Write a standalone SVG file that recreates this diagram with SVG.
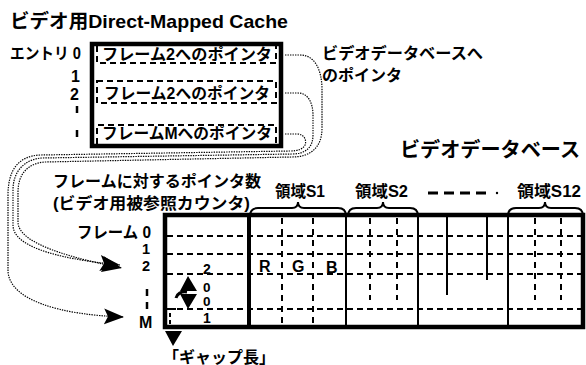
<svg xmlns="http://www.w3.org/2000/svg" width="586" height="365" viewBox="0 0 586 365">
<defs>
<style>
text{font-family:"Liberation Sans","Noto Sans CJK JP",sans-serif;font-weight:bold;fill:#000}
.thick{fill:none;stroke:#000;stroke-width:4.5}
.solid{fill:none;stroke:#000;stroke-width:2}
.dash{fill:none;stroke:#000;stroke-width:2;stroke-dasharray:6 4}
.vdash{fill:none;stroke:#000;stroke-width:2;stroke-dasharray:6 5}
.brace{fill:none;stroke:#000;stroke-width:2}
.dot{fill:none;stroke:#000;stroke-width:1.2;stroke-dasharray:1.4 1.1}
</style>
<marker id="ah" markerUnits="userSpaceOnUse" markerWidth="21" markerHeight="17" refX="20" refY="8" orient="auto" viewBox="0 0 21 17">
<path d="M0,0 L20,8 L0,16 L4,8 Z" fill="#000"/>
</marker>
</defs>
<rect width="586" height="365" fill="#fff"/>

<text x="10" y="28" font-size="19" textLength="278" lengthAdjust="spacingAndGlyphs">ビデオ用Direct-Mapped Cache</text>

<g id="cache">
<rect class="thick" x="92" y="44" width="189" height="102"/>
<path class="dash" d="M97,46 V63 H276 V46"/>
<rect class="dash" x="97" y="81" width="179" height="22"/>
<path class="dash" d="M97,144 V125 H276 V144"/>
<text x="102" y="60" font-size="16" textLength="170" lengthAdjust="spacingAndGlyphs">フレーム2へのポインタ</text>
<text x="104" y="99" font-size="16" textLength="166" lengthAdjust="spacingAndGlyphs">フレーム2へのポインタ</text>
<text x="102" y="139" font-size="16" textLength="170" lengthAdjust="spacingAndGlyphs">フレームMへのポインタ</text>
</g>

<g id="entry-labels">
<text x="10" y="59" font-size="16" textLength="71" lengthAdjust="spacingAndGlyphs">エントリ 0</text>
<text x="71" y="82" font-size="16">1</text>
<text x="70" y="100" font-size="16">2</text>
<path d="M77,106 V113 M77,130 V137" stroke="#000" stroke-width="2.5"/>
</g>

<g id="pointer-label">
<text x="322" y="59" font-size="16" textLength="161" lengthAdjust="spacingAndGlyphs">ビデオデータベースへ</text>
<text x="322" y="81" font-size="16">のポインタ</text>
</g>

<text x="400" y="157" font-size="20" textLength="180" lengthAdjust="spacingAndGlyphs">ビデオデータベース</text>

<g id="counter-label">
<text x="53" y="187" font-size="16" textLength="208" lengthAdjust="spacingAndGlyphs">フレームに対するポインタ数</text>
<text x="53" y="209" font-size="16" textLength="197" lengthAdjust="spacingAndGlyphs">(ビデオ用被参照カウンタ)</text>
</g>

<g id="frame-labels">
<text x="77" y="238" font-size="16" textLength="74" lengthAdjust="spacingAndGlyphs">フレーム 0</text>
<text x="142" y="254" font-size="14.5">1</text>
<text x="142" y="271" font-size="14.5">2</text>
<path d="M147,289 V296 M147,302 V309" stroke="#000" stroke-width="2.5"/>
<text x="139" y="328" font-size="16">M</text>
</g>

<g id="database">
<line class="dash" x1="167" y1="236" x2="581" y2="236"/>
<line class="dash" x1="167" y1="254" x2="581" y2="254"/>
<line class="dash" x1="167" y1="274" x2="581" y2="274"/>
<line class="dash" x1="167" y1="309" x2="581" y2="309"/>
<line class="vdash" x1="282" y1="218" x2="282" y2="326"/>
<line class="vdash" x1="313" y1="218" x2="313" y2="326"/>
<line class="vdash" x1="370" y1="218" x2="370" y2="300"/>
<line class="vdash" x1="397" y1="218" x2="397" y2="300"/>
<line class="vdash" x1="535" y1="218" x2="535" y2="300"/>
<line class="vdash" x1="561" y1="218" x2="561" y2="300"/>
<line class="solid" x1="346" y1="215" x2="346" y2="327"/>
<line class="solid" x1="418" y1="215" x2="418" y2="327"/>
<line class="solid" x1="508" y1="215" x2="508" y2="327"/>
<line class="solid" x1="447" y1="215" x2="447" y2="295"/>
<line class="solid" x1="487" y1="215" x2="487" y2="280"/>
<line x1="249" y1="215" x2="249" y2="327" stroke="#000" stroke-width="4"/>
<rect class="thick" x="165" y="215" width="418" height="112" stroke-width="4"/>
<text x="259" y="272" font-size="16">R</text>
<text x="292" y="272" font-size="16">G</text>
<text x="326" y="273" font-size="16">B</text>
</g>

<g id="counter">
<text x="203" y="274" font-size="14">2</text>
<text x="203" y="292" font-size="13.5">0</text>
<text x="203" y="306" font-size="13.5">0</text>
<text x="203" y="323" font-size="14">1</text>
<polygon points="188,276 180,291 197,291" fill="#000"/>
<polygon points="180,294 197,294 188,309" fill="#000"/>
<path d="M187,292 C181,291 177,294 176,298" fill="none" stroke="#000" stroke-width="3"/>
<path d="M170,309 H176 M170,313 V317 M170,320 V324" stroke="#000" stroke-width="2" fill="none"/>
</g>

<g id="gap">
<polygon points="165,331 182,331 173,346" fill="#000"/>
<text x="163" y="363" font-size="16">「ギャップ長」</text>
</g>

<g id="regions">
<path class="brace" d="M250,216 Q250,208 258,208 L292,208 Q298,208 298,202 Q298,208 304,208 L338,208 Q346,208 346,216"/>
<path class="brace" d="M348,216 Q348,208 356,208 L377,208 Q383,208 383,202 Q383,208 389,208 L410,208 Q418,208 418,216"/>
<path class="brace" d="M508,216 Q508,208 516,208 L539,208 Q545,208 545,202 Q545,208 551,208 L575,208 Q583,208 583,216"/>
<text x="275" y="197" font-size="16" textLength="50" lengthAdjust="spacingAndGlyphs">領域S1</text>
<text x="355" y="197" font-size="16" textLength="53" lengthAdjust="spacingAndGlyphs">領域S2</text>
<line x1="428" y1="193" x2="490" y2="193" stroke="#000" stroke-width="3" stroke-dasharray="10 6"/>
<circle cx="497" cy="193" r="1.2" fill="#000"/>
<text x="517" y="197" font-size="16" textLength="64" lengthAdjust="spacingAndGlyphs">領域S12</text>
</g>

<g id="connectors">
<path class="dot" marker-end="url(#ah)" d="M285,134 H297 C304,134 307,140 305,145 C303,149 298,151 290,151 L40,155 C20,156 8,168 8,195 L8,270 C8,300 60,315 124,317"/>
<path class="dot" marker-end="url(#ah)" d="M285,93 H298 C308,93 313,103 313,115 L313,135 C313,148 305,154 292,154 L42,158 C26,159 13,170 13,190 L13,225 C13,245 50,258 120,265"/>
<path class="dot" marker-end="url(#ah)" d="M285,55 H300 C315,55 322,70 322,90 L322,128 C322,148 310,157 292,157 L45,162 C30,163 18,172 18,192 L18,222 C18,240 55,255 122,268"/>
</g>
</svg>
